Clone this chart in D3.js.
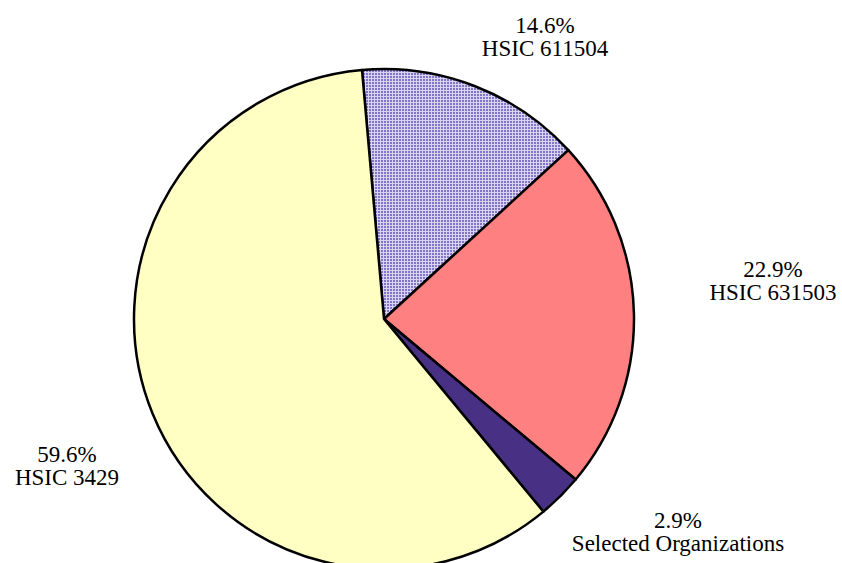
<!DOCTYPE html>
<html><head><meta charset="utf-8">
<script src="https://cdn.jsdelivr.net/npm/d3@7"></script>
<style>html,body{margin:0;padding:0;background:#fff;}svg{display:block;}
.lbl{font-family:"Liberation Serif","Times New Roman","DejaVu Serif",serif;}</style>
</head><body>
<svg id="chart" width="842" height="563"></svg>
<script>
const categories = ["HSIC 611504", "HSIC 631503", "Selected Organizations", "HSIC 3429"];
const values = [14.6, 22.9, 2.9, 59.6];
const pctLabels = ["14.6%", "22.9%", "2.9%", "59.6%"];
const colors = ["url(#grid)", "#FF8080", "#483184", "#FFFFC4"];
const labelPos = [[545, 33], [773, 277], [678, 528], [67, 462]];

const svg = d3.select("#chart");
const defs = svg.append("defs");
const pat = defs.append("pattern").attr("id","grid").attr("patternUnits","userSpaceOnUse").attr("width",3).attr("height",3);
pat.append("rect").attr("width",3).attr("height",3).attr("fill","#D9D4F1");
pat.append("rect").attr("width",2).attr("height",2).attr("fill","#8275C6");

const cx = 384, cy = 319, r = 250;
const startA = -5.05 * Math.PI/180;
const pie = d3.pie().sort(null).value(d => d).startAngle(startA).endAngle(startA + 2*Math.PI);
const arcs = pie(values);
const arc = d3.arc().innerRadius(0).outerRadius(r);
const g = svg.append("g").attr("transform", `translate(${cx},${cy})`);
g.selectAll("path").data(arcs).join("path")
  .attr("d", arc)
  .attr("fill", (d,i) => colors[i])
  .attr("stroke", "#000").attr("stroke-width", 2.5).attr("stroke-linejoin","round");

const lab = svg.append("g").attr("class","lbl").attr("font-size",23).attr("fill","#000").attr("text-anchor","middle");
categories.forEach((c,i) => {
  const t = lab.append("text").attr("x", labelPos[i][0]).attr("y", labelPos[i][1]);
  t.append("tspan").attr("x", labelPos[i][0]).text(pctLabels[i]);
  t.append("tspan").attr("x", labelPos[i][0]).attr("dy", 23).text(c);
});
</script>
</body></html>
